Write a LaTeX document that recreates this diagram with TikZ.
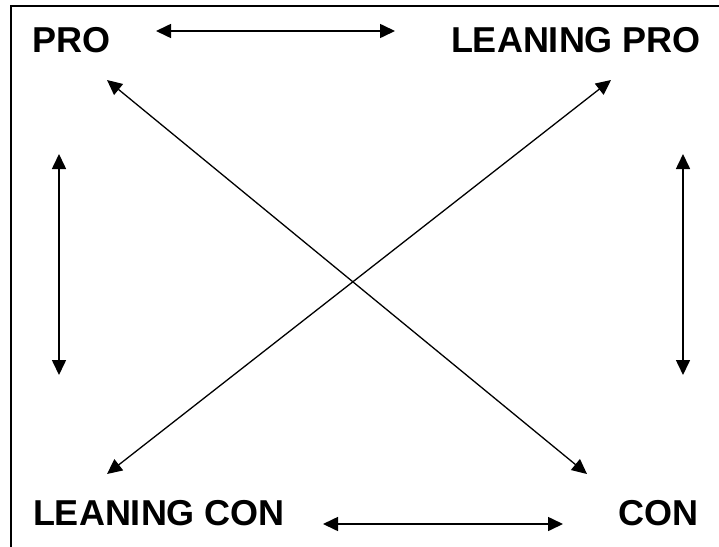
\documentclass[tikz,border=0pt]{standalone}
\usepackage{fontspec}
\setmainfont{Liberation Sans}
\usetikzlibrary{arrows.meta}

\tikzset{
  corner/.style={font=\fontsize{36}{40}\selectfont\bfseries,inner sep=0pt,anchor=base},
  link/.style={line width=1.6pt,{Triangle[length=15pt,width=14pt]}-{Triangle[length=15pt,width=14pt]}}
}

\begin{document}
\begin{tikzpicture}[x=1pt,y=-1pt]
\useasboundingbox (0,0) rectangle (719,546);
\clip (0,0) rectangle (719,546);
% frame, cut off at the right and bottom
\draw[line width=2pt] (11,6) rectangle (740,570);

% the four positions
\node[corner] (pro) at (71.5,52) {PRO};
\node[corner] (leanpro) at (576,52) {LEANING PRO};
\node[corner] (leancon) at (159,525) {LEANING CON};
\node[corner] (con) at (658,525) {CON};

% arrow ends
\coordinate (topL) at (156,31);
\coordinate (topR) at (395,31);
\coordinate (botL) at (323,524);
\coordinate (botR) at (563,524);
\coordinate (lefT) at (59,154);
\coordinate (lefB) at (59,375);
\coordinate (rigT) at (683,154);
\coordinate (rigB) at (683,375);
\coordinate (dProA) at (107,80);
\coordinate (dConA) at (587,474);
\coordinate (dLpA) at (611,80);
\coordinate (dLcA) at (107,474);

\draw[link] (topL) -- (topR);
\draw[link] (botL) -- (botR);
\draw[link] (lefT) -- (lefB);
\draw[link] (rigT) -- (rigB);
\draw[link,line width=1.3pt] (dProA) -- (dConA);
\draw[link,line width=1.3pt] (dLpA) -- (dLcA);
\end{tikzpicture}
\end{document}
